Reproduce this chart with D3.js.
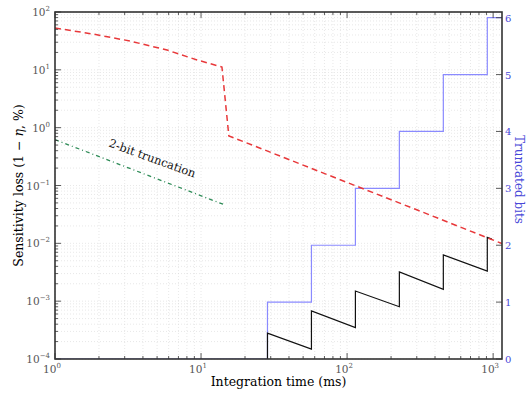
<!DOCTYPE html>
<html lang="en">
<head>
<meta charset="UTF-8">
<script src="https://d3js.org/d3.v7.min.js"></script>
<style>
    body { margin: 0; background: #fff; }
    svg text { font-family: "DejaVu Serif", "Liberation Serif", serif; }
</style>
</head>
<body>
<script>
    /*------------------- data -------------------*/
    // red dashed: total sensitivity loss (%)
    const lossTime = [1, 1.82, 3.26, 5.85, 9.4, 13.9, 15.5, 20, 50, 100, 300, 1150];
    const lossPct  = [52.8, 41.6, 31.5, 22.0, 14.8, 11.2, 0.72, 0.56, 0.225, 0.113, 0.038, 0.0099];

    // green dash-dot: 2-bit truncation
    const twoBitTime = [1, 14.6];
    const twoBitPct  = [0.62, 0.046];

    // black sawtooth
    const sawTime = [28.5, 28.5, 57, 57, 114, 114, 228, 228, 456, 456, 912, 912, 980];
    const sawPct  = [1e-4, 2.8e-4, 1.48e-4, 6.8e-4, 3.5e-4, 1.5e-3, 8e-4, 3.2e-3, 1.6e-3, 6.3e-3, 3.3e-3, 1.27e-2, 1.18e-2];

    // blue steps: truncated bits (right axis)
    const bitsTime = [1, 28.5, 57, 114, 228, 456, 912, 1150];
    const bitsVal  = [0, 1, 2, 3, 4, 5, 6, 6];

    const yTicks = [1e-4, 1e-3, 1e-2, 1e-1, 1e0, 1e1, 1e2];
    const xTicks = [1, 10, 100, 1000];
    const rTicks = [0, 1, 2, 3, 4, 5, 6];

    /*------------------- layout -------------------*/
    const W = 527, H = 396;
    const L = 55, R = 502, T = 12, B = 359;
    const blueTxt = "#4848d8", blueLine = "#8a8aff";

    const x = d3.scaleLog().domain([1, 1150]).range([L, R]);
    const y = d3.scaleLog().domain([1e-4, 1e2]).range([B, T]);
    const yr = d3.scaleLinear().domain([0, 6.1]).range([B, T]);

    const svg = d3.select("body").append("svg")
        .attr("width", W).attr("height", H);

    svg.append("clipPath").attr("id", "plot")
        .append("rect").attr("x", L).attr("y", T).attr("width", R - L).attr("height", B - T);

    // minor positions for the log axes
    const xMinor = [];
    for (let d = 1; d <= 1000; d *= 10) for (let k = 1; k < 10; k++) if (d * k <= 1150) xMinor.push(d * k);
    const yMinor = [];
    for (let d = 1e-4; d < 100; d *= 10) for (let k = 1; k < 10; k++) yMinor.push(d * k);
    yMinor.push(100);

    /*------------------- grid -------------------*/
    const grid = svg.append("g").attr("stroke", "#d8d8d8").attr("stroke-width", 0.6)
        .attr("stroke-dasharray", "1,2");
    grid.selectAll(".gx").data(xMinor).join("line")
        .attr("x1", d => x(d)).attr("x2", d => x(d)).attr("y1", T).attr("y2", B);
    grid.selectAll(".gy").data(yMinor).join("line")
        .attr("y1", d => y(d)).attr("y2", d => y(d)).attr("x1", L).attr("x2", R);

    /*------------------- series -------------------*/
    const plot = svg.append("g").attr("clip-path", "url(#plot)");

    const logLine = d3.line().x(d => x(d[0])).y(d => y(d[1]));

    plot.append("path")
        .datum(bitsTime.map((t, i) => [t, bitsVal[i]]))
        .attr("d", d3.line().curve(d3.curveStepAfter).x(d => x(d[0])).y(d => yr(d[1])))
        .attr("fill", "none").attr("stroke", blueLine).attr("stroke-width", 1.2);

    plot.append("path")
        .datum(sawTime.map((t, i) => [t, sawPct[i]]))
        .attr("d", logLine)
        .attr("fill", "none").attr("stroke", "#111").attr("stroke-width", 1.2);

    plot.append("path")
        .datum(twoBitTime.map((t, i) => [t, twoBitPct[i]]))
        .attr("d", logLine)
        .attr("fill", "none").attr("stroke", "#2e8b57").attr("stroke-width", 1.3)
        .attr("stroke-dasharray", "4,3,1,3");

    plot.append("path")
        .datum(lossTime.map((t, i) => [t, lossPct[i]]))
        .attr("d", logLine)
        .attr("fill", "none").attr("stroke", "#e8383a").attr("stroke-width", 1.5)
        .attr("stroke-dasharray", "6,4");

    svg.append("text")
        .attr("transform", `translate(151,162) rotate(20)`)
        .attr("text-anchor", "middle")
        .attr("font-size", 11.5).attr("fill", "#111")
        .text("2-bit truncation");

    /*------------------- frame and ticks -------------------*/
    const tk = svg.append("g").attr("stroke", "#333").attr("stroke-width", 0.8);
    // x ticks bottom / top
    tk.selectAll(".xb").data(xMinor).join("line")
        .attr("x1", d => x(d)).attr("x2", d => x(d))
        .attr("y1", B).attr("y2", d => B - (xTicks.includes(d) ? 6 : 3));
    tk.selectAll(".xt").data(xMinor).join("line")
        .attr("x1", d => x(d)).attr("x2", d => x(d))
        .attr("y1", T).attr("y2", d => T + (xTicks.includes(d) ? 6 : 3));
    // y ticks left
    tk.selectAll(".yl").data(yMinor).join("line")
        .attr("y1", d => y(d)).attr("y2", d => y(d))
        .attr("x1", L).attr("x2", d => L + (yTicks.includes(d) ? 6 : 3));
    // right axis ticks
    tk.selectAll(".yr").data(rTicks).join("line")
        .attr("y1", d => yr(d)).attr("y2", d => yr(d))
        .attr("x1", R).attr("x2", R - 6);

    svg.append("rect")
        .attr("x", L).attr("y", T).attr("width", R - L).attr("height", B - T)
        .attr("fill", "none").attr("stroke", "#333").attr("stroke-width", 1.6);

    /*------------------- tick labels -------------------*/
    const pow = (sel, e) => {
        sel.append("tspan").text("10");
        sel.append("tspan").attr("font-size", 7).attr("dy", -5).text(e);
    };

    yTicks.forEach(v => {
        const e = Math.round(Math.log10(v));
        const t = svg.append("text")
            .attr("x", L - 5).attr("y", y(v) + 4)
            .attr("text-anchor", "end").attr("font-size", 10.5).attr("fill", "#555");
        pow(t, e < 0 ? "\u2212" + (-e) : String(e));
    });

    xTicks.forEach(v => {
        const e = Math.round(Math.log10(v));
        const t = svg.append("text")
            .attr("x", x(v) - 3).attr("y", B + 14)
            .attr("text-anchor", "middle").attr("font-size", 10.5).attr("fill", "#555");
        pow(t, String(e));
    });

    rTicks.forEach(v => {
        svg.append("text")
            .attr("x", R + 3).attr("y", yr(v) + 4)
            .attr("font-size", 10).attr("fill", blueTxt)
            .text(v);
    });

    /*------------------- axis titles -------------------*/
    svg.append("text")
        .attr("x", (L + R) / 2).attr("y", 386)
        .attr("text-anchor", "middle").attr("font-size", 12.5).attr("fill", "#000")
        .text("Integration time (ms)");

    const yl = svg.append("text")
        .attr("transform", `translate(23,${(T + B) / 2}) rotate(-90)`)
        .attr("text-anchor", "middle").attr("font-size", 12.5).attr("fill", "#000");
    yl.append("tspan").text("Sensitivity loss (1 \u2212 ");
    yl.append("tspan").attr("font-style", "italic").text("\u03b7");
    yl.append("tspan").text(", %)");

    svg.append("text")
        .attr("transform", `translate(515,${(T + B) / 2 - 6}) rotate(90)`)
        .attr("text-anchor", "middle").attr("font-size", 12).attr("fill", blueTxt)
        .text("Truncated bits");
</script>
</body>
</html>
